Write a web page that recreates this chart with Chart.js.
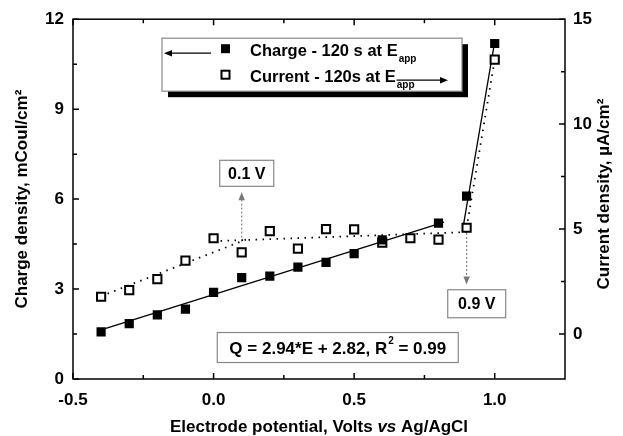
<!DOCTYPE html>
<html>
<head>
<meta charset="utf-8">
<script src="https://cdn.jsdelivr.net/npm/chart.js@4.4.0/dist/chart.umd.min.js"></script>
<style>
body{margin:0;background:#fff;}
#wrap{width:623px;height:436px;position:relative;}
</style>
</head>
<body>
<div id="wrap"><canvas id="myChart"></canvas></div>
<script>
// DATA
const chargeE = [-0.4,-0.3,-0.2,-0.1,0.0,0.1,0.2,0.3,0.4,0.5,0.6,0.8,0.9,1.0];
const chargeQ = [1.57,1.85,2.14,2.33,2.89,3.38,3.43,3.73,3.89,4.18,4.64,5.20,6.10,11.19];
const currentE = [-0.4,-0.3,-0.2,-0.1,0.0,0.1,0.2,0.3,0.4,0.5,0.6,0.7,0.8,0.9,1.0];
const currentJ = [1.77,2.09,2.61,3.49,4.56,3.89,4.90,4.06,4.99,4.98,4.35,4.56,4.49,5.06,13.07];

// fitted lines
const fitE = [-0.4, 0.82];
const fitQ = [1.64, 5.23];
const steepQE = [0.89, 1.0];
const steepQ = [5.2, 11.25];
const riseE = [-0.4, 0.12];
const riseJ = [1.8, 4.52];
const flatE = [0.0, 0.9];
const flatJ = [4.42, 4.85];
const steepJE = [0.9, 1.0];
const steepJ = [5.06, 13.07];

// axes
const xTicks = [-0.5, 0.0, 0.5, 1.0];
const xMinor = [-0.25, 0.25, 0.75];
const qTicks = [0, 3, 6, 9, 12];
const qMinor = [1.5, 4.5, 7.5, 10.5];
const jTicks = [0, 5, 10, 15];
const jMinor = [2.5, 7.5, 12.5];

const FONT = "'Liberation Sans', Arial, sans-serif";

function pts(xs, ys){
	return xs.map((x,i)=>({x:x, y:ys[i]}));
}

function subText(ctx, main, sub, x, y, size){
	ctx.font = "bold "+size+"px "+FONT;
	ctx.fillText(main, x, y);
	let w = ctx.measureText(main).width;
	ctx.font = "bold 10px "+FONT;
	ctx.fillText(sub, x+w+1, y+6);
	return x+w+1+ctx.measureText(sub).width;
}

function arrowHead(ctx, x, y, dir, size){
	// dir: 'up','down','left','right'
	ctx.beginPath();
	if(dir==='up'){ctx.moveTo(x,y);ctx.lineTo(x-size/2.5,y+size);ctx.lineTo(x+size/2.5,y+size);}
	if(dir==='down'){ctx.moveTo(x,y);ctx.lineTo(x-size/2.5,y-size);ctx.lineTo(x+size/2.5,y-size);}
	if(dir==='left'){ctx.moveTo(x,y);ctx.lineTo(x+size,y-size/2.5);ctx.lineTo(x+size,y+size/2.5);}
	if(dir==='right'){ctx.moveTo(x,y);ctx.lineTo(x-size,y-size/2.5);ctx.lineTo(x-size,y+size/2.5);}
	ctx.closePath();
	ctx.fill();
}

function textBox(ctx, cx, cy, w, h, text, size){
	ctx.fillStyle = "#fff";
	ctx.fillRect(cx-w/2, cy-h/2, w, h);
	ctx.strokeStyle = "#888";
	ctx.lineWidth = 1.2;
	ctx.strokeRect(cx-w/2, cy-h/2, w, h);
	ctx.fillStyle = "#000";
	ctx.font = "bold "+size+"px "+FONT;
	ctx.textAlign = "center";
	ctx.textBaseline = "middle";
	ctx.fillText(text, cx, cy+1);
}

const notes = {
	id: 'notes',
	beforeDatasetsDraw(chart){
		const ctx = chart.ctx;
		const sx = chart.scales.x, sj = chart.scales.y2;
		ctx.save();
		ctx.strokeStyle = "#888";
		ctx.fillStyle = "#777";
		ctx.lineWidth = 1.2;
		ctx.setLineDash([2,2]);
		// 0.1 V arrow (up)
		let x1 = sx.getPixelForValue(0.1);
		ctx.beginPath();
		ctx.moveTo(x1, sj.getPixelForValue(4.4));
		ctx.lineTo(x1, sj.getPixelForValue(6.5));
		ctx.stroke();
		// 0.9 V arrow (down)
		let x9 = sx.getPixelForValue(0.9);
		ctx.beginPath();
		ctx.moveTo(x9, sj.getPixelForValue(5.0));
		ctx.lineTo(x9, sj.getPixelForValue(2.6));
		ctx.stroke();
		ctx.setLineDash([]);
		arrowHead(ctx, x1, sj.getPixelForValue(6.75), 'up', 8);
		arrowHead(ctx, x9, sj.getPixelForValue(2.35), 'down', 8);
		ctx.restore();
	},
	afterDraw(chart){
		const ctx = chart.ctx;
		const a = chart.chartArea;
		const sx = chart.scales.x, sq = chart.scales.y, sj = chart.scales.y2;
		ctx.save();
		// frame
		ctx.strokeStyle = "#000";
		ctx.lineWidth = 1.5;
		ctx.strokeRect(a.left, a.top, a.right-a.left, a.bottom-a.top);
		// inward ticks
		ctx.beginPath();
		xTicks.concat(xMinor).forEach(v=>{
			let len = xTicks.includes(v) ? 6 : 4;
			let p = sx.getPixelForValue(v);
			ctx.moveTo(p, a.bottom); ctx.lineTo(p, a.bottom-len);
			ctx.moveTo(p, a.top); ctx.lineTo(p, a.top+len);
		});
		qTicks.concat(qMinor).forEach(v=>{
			let len = qTicks.includes(v) ? 6 : 4;
			let p = sq.getPixelForValue(v);
			ctx.moveTo(a.left, p); ctx.lineTo(a.left+len, p);
		});
		jTicks.concat(jMinor).forEach(v=>{
			let len = jTicks.includes(v) ? 6 : 4;
			let p = sj.getPixelForValue(v);
			ctx.moveTo(a.right, p); ctx.lineTo(a.right-len, p);
		});
		ctx.stroke();

		// x title with italic "vs"
		ctx.fillStyle = "#000";
		ctx.textBaseline = "alphabetic";
		ctx.textAlign = "left";
		const t1 = "Electrode potential, Volts ", t2 = "vs", t3 = " Ag/AgCl";
		ctx.font = "bold 17px "+FONT;
		let w1 = ctx.measureText(t1).width, w3 = ctx.measureText(t3).width;
		ctx.font = "italic bold 17px "+FONT;
		let w2 = ctx.measureText(t2).width;
		let tx = (a.left+a.right)/2 - (w1+w2+w3)/2;
		ctx.font = "bold 17px "+FONT;
		ctx.fillText(t1, tx, 432);
		ctx.font = "italic bold 17px "+FONT;
		ctx.fillText(t2, tx+w1, 432);
		ctx.font = "bold 17px "+FONT;
		ctx.fillText(t3, tx+w1+w2, 432);

		// right title, reading bottom to top
		ctx.save();
		ctx.translate(604, (a.top+a.bottom)/2 - 5);
		ctx.rotate(-Math.PI/2);
		ctx.textAlign = "center";
		ctx.textBaseline = "middle";
		ctx.fillText("Current density, \u00B5A/cm\u00B2", 0, 0);
		ctx.restore();

		// legend with shadow
		const lx = a.left+89, ly = a.top+19, lw = 300, lh = 53;
		ctx.fillStyle = "#000";
		ctx.fillRect(lx+6, ly+6, lw, lh);
		ctx.fillStyle = "#fff";
		ctx.fillRect(lx, ly, lw, lh);
		ctx.strokeStyle = "#888";
		ctx.lineWidth = 1.2;
		ctx.strokeRect(lx, ly, lw, lh);
		ctx.fillStyle = "#000";
		ctx.fillRect(lx+59, ly+6, 9, 9);
		ctx.strokeStyle = "#000";
		ctx.lineWidth = 2;
		ctx.strokeRect(lx+59.5, ly+32.5, 8, 8);
		ctx.textAlign = "left";
		ctx.textBaseline = "alphabetic";
		subText(ctx, "Charge - 120 s at E", "app", lx+88, ly+18, 16.5);
		let endE = subText(ctx, "Current - 120s at E", "app", lx+88, ly+44, 16.5);
		ctx.lineWidth = 1.2;
		ctx.beginPath();
		ctx.moveTo(lx+49, ly+15); ctx.lineTo(lx+6, ly+15);
		ctx.moveTo(endE-18, ly+42); ctx.lineTo(lx+280, ly+42);
		ctx.stroke();
		arrowHead(ctx, lx+2, ly+15, 'left', 8);
		arrowHead(ctx, lx+286, ly+42, 'right', 8);

		// label boxes
		textBox(ctx, sx.getPixelForValue(0.118), sq.getPixelForValue(6.86), 54, 26, "0.1 V", 16);
		textBox(ctx, sx.getPixelForValue(0.936), sq.getPixelForValue(2.51), 58, 28, "0.9 V", 16);

		// equation box
		const ex = sx.getPixelForValue(0.44), ey = sq.getPixelForValue(1.05);
		ctx.fillStyle = "#fff";
		ctx.fillRect(ex-120, ey-15, 241, 30);
		ctx.strokeStyle = "#888";
		ctx.lineWidth = 1.2;
		ctx.strokeRect(ex-120, ey-15, 241, 30);
		ctx.fillStyle = "#000";
		ctx.textBaseline = "alphabetic";
		ctx.textAlign = "left";
		const e1 = "Q = 2.94*E + 2.82, R", e2 = "2", e3 = " = 0.99";
		ctx.font = "bold 17px "+FONT;
		let we1 = ctx.measureText(e1).width, we3 = ctx.measureText(e3).width;
		ctx.font = "bold 10px "+FONT;
		let we2 = ctx.measureText(e2).width;
		let ex0 = ex - (we1+we2+we3)/2;
		ctx.font = "bold 17px "+FONT;
		ctx.fillText(e1, ex0, ey+6);
		ctx.font = "bold 10px "+FONT;
		ctx.fillText(e2, ex0+we1+1, ey-4);
		ctx.font = "bold 17px "+FONT;
		ctx.fillText(e3, ex0+we1+we2+1, ey+6);
		ctx.restore();
	}
};

const tickFont = {family: FONT, size: 17, weight: 'bold'};

new Chart(document.getElementById('myChart'), {
	type: 'scatter',
	data: {
		datasets: [
			{label:'Charge', data: pts(chargeE, chargeQ), yAxisID:'y', pointStyle:'rect', pointRadius:6.5, backgroundColor:'#000', borderColor:'#000', borderWidth:0, order:1},
			{label:'Current', data: pts(currentE, currentJ), yAxisID:'y2', pointStyle:'rect', pointRadius:5.8, backgroundColor:'#fff', borderColor:'#000', borderWidth:2, order:2},
			{label:'fit', data: pts(fitE, fitQ), yAxisID:'y', showLine:true, pointRadius:0, borderColor:'#000', borderWidth:1.3, order:5},
			{label:'steepQ', data: pts(steepQE, steepQ), yAxisID:'y', showLine:true, pointRadius:0, borderColor:'#000', borderWidth:1.3, order:5},
			{label:'riseJ', data: pts(riseE, riseJ), yAxisID:'y2', showLine:true, pointRadius:0, borderColor:'#000', borderWidth:1.8, borderDash:[1.5,5.5], order:6},
			{label:'flatJ', data: pts(flatE, flatJ), yAxisID:'y2', showLine:true, pointRadius:0, borderColor:'#000', borderWidth:1.8, borderDash:[1.5,5.5], order:6},
			{label:'steepJ', data: pts(steepJE, steepJ), yAxisID:'y2', showLine:true, pointRadius:0, borderColor:'#000', borderWidth:1.8, borderDash:[1.5,5.5], order:6}
		]
	},
	options: {
		responsive: true,
		maintainAspectRatio: false,
		devicePixelRatio: 1,
		animation: false,
		layout: {padding: {top: 16, right: 0, bottom: 0, left: 0}},
		plugins: {legend:{display:false}, tooltip:{enabled:false}},
		scales: {
			x: {
				type:'linear', position:'bottom', min:-0.5, max:1.25,
				grid:{display:false, drawTicks:false}, border:{display:false},
				afterBuildTicks: s => { s.ticks = xTicks.map(v=>({value:v})); },
				afterFit: s => { s.height = 57; },
				ticks:{font:tickFont, color:'#000', padding:11, maxRotation:0, callback: v => v.toFixed(1)}
			},
			y: {
				type:'linear', position:'left', min:0, max:12,
				grid:{display:false, drawTicks:false}, border:{display:false},
				afterBuildTicks: s => { s.ticks = qTicks.map(v=>({value:v})); },
				afterFit: s => { s.width = 73; },
				ticks:{font:tickFont, color:'#000', padding:9},
				title:{display:true, text:'Charge density, mCoul/cm\u00B2', color:'#000', font:{family:FONT, size:17, weight:'bold'}, padding:{top:12, bottom:0}}
			},
			y2: {
				type:'linear', position:'right', min:-2.15, max:15,
				grid:{display:false, drawTicks:false}, border:{display:false},
				afterBuildTicks: s => { s.ticks = jTicks.map(v=>({value:v})); },
				afterFit: s => { s.width = 58; },
				ticks:{font:tickFont, color:'#000', padding:8}
			}
		}
	},
	plugins: [notes]
});
</script>
</body>
</html>
